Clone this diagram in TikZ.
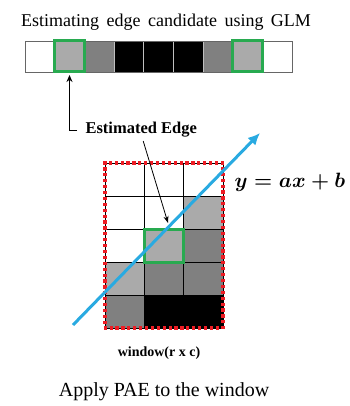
\documentclass[tikz,border=0pt]{standalone}
\usepackage{fontspec}
\setmainfont{Liberation Serif}
\usepackage{amsmath}
\usetikzlibrary{positioning,arrows.meta,decorations.markings}
\definecolor{edgegreen}{RGB}{40,170,80}
\definecolor{lineblue}{RGB}{41,170,225}
\definecolor{winred}{RGB}{237,28,36}
\definecolor{lgray}{RGB}{170,170,170}
\definecolor{mgray}{RGB}{128,128,128}
\tikzset{
  pix/.style={draw=black!25, minimum width=29.67pt, minimum height=31pt, inner sep=0pt, outer sep=0pt},
  win/.style={draw=black, minimum width=39.3pt, minimum height=33pt, inner sep=0pt, outer sep=0pt},
  pick/.style={draw=edgegreen, line width=3pt},
  winbox/.style={decorate, decoration={markings,
      mark=between positions 0 and 1 step 5.9pt with {\fill[winred] (-1.6pt,-1.6pt) rectangle (1.6pt,1.6pt);}}},
  fitline/.style={draw=lineblue, line width=3pt, -{Latex[length=12pt,width=11pt]}},
}
\begin{document}
\begin{tikzpicture}[x=1pt,y=-1pt]
  \useasboundingbox (0,0) rectangle (349,406);
  \node[font=\fontsize{18}{20}\selectfont] (title) at (166,22) {Estimating\, edge\, candidate\, using\, GLM};
  % pixel strip
  \foreach \c [count=\i] in {white,lgray,mgray,black,black,black,mgray,lgray,white}
    \node[pix,fill=\c] (s\i) at ({25+(\i-0.5)*29.67},56.5) {};
  \draw[black!60] (s1.north west) rectangle (s9.south east);
  \draw[pick] (s2.south west) rectangle (s2.north east);
  \draw[pick] (s8.south west) rectangle (s8.north east);
  % window (r x c)
  \foreach \row [count=\r] in {{white,white,white},{white,white,lgray},{white,lgray,mgray},{lgray,mgray,mgray},{mgray,black,black}}
    \foreach \c [count=\k] in \row
      \node[win,fill=\c] (w\r\k) at ({105+(\k-0.5)*39.3},{163+(\r-0.5)*33}) {};
  \path[winbox] (w11.north west) rectangle (w53.south east);
  \draw[pick] (w32.north west) rectangle (w32.south east);
  % fitted line
  \coordinate (b0) at (73,325);
  \coordinate (b1) at (260,133);
  \draw[fitline] (b0) -- (b1);
  \node[anchor=west] (eq) at (231,182) {\fontsize{22}{24}\selectfont$\boldsymbol{y = ax + b}$};
  % labels
  \node[anchor=west, font=\bfseries\fontsize{16.5}{18}\selectfont] (est) at (82,130) {Estimated Edge};
  \draw[-{Stealth[length=7pt,width=6pt]}, line width=0.9pt] ([xshift=-5pt]est.west) -| ([yshift=-3pt]s2.south);
  \coordinate (hit) at (168,223);
  \draw[-{Stealth[length=7pt,width=5pt]}, line width=0.8pt] ([xshift=2pt]est.south) -- (hit);
  \node[font=\bfseries\fontsize{14}{16}\selectfont] (wlab) at (159,353) {window(r x c)};
  \node[font=\fontsize{20}{22}\selectfont] (apply) at (164,392) {Apply PAE to the window};
\end{tikzpicture}
\end{document}
